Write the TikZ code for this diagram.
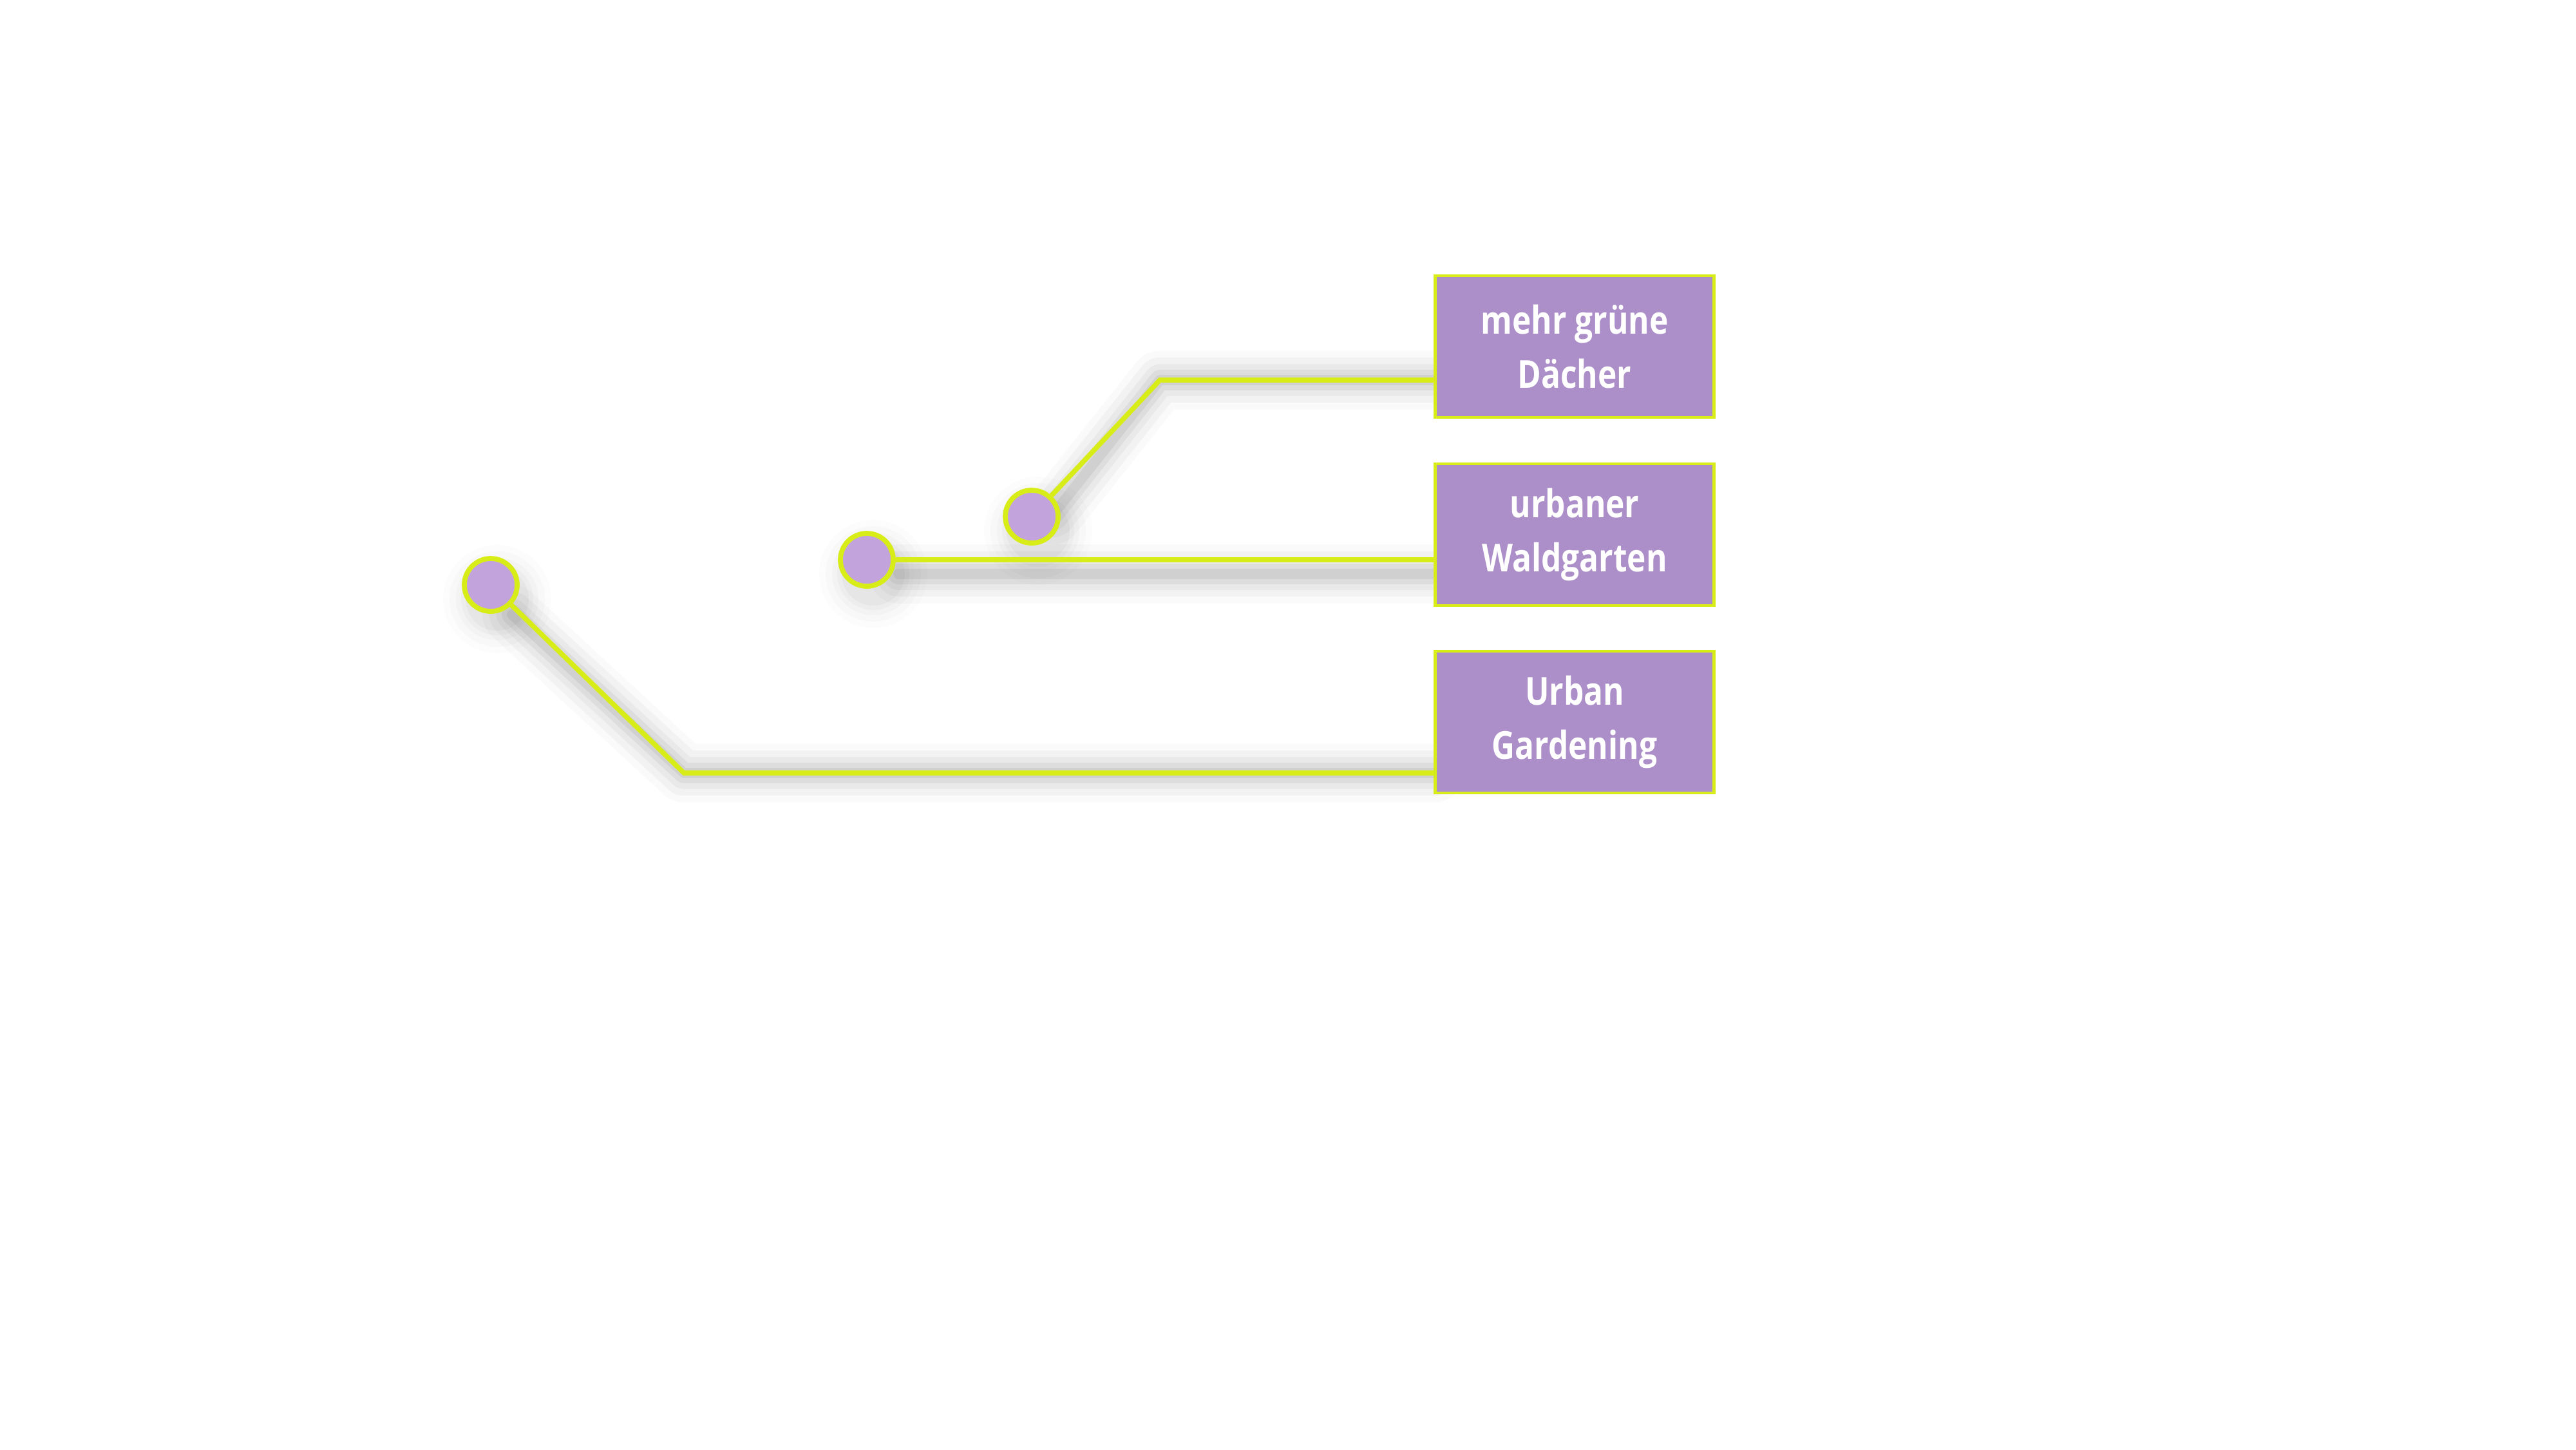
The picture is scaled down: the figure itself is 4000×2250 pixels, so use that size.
\documentclass[tikz,border=0pt]{standalone}
\usepackage{fontspec}
\newfontfamily\boxfont{Open Sans}[FakeStretch=0.83]
\definecolor{lime}{RGB}{216,236,24}
\definecolor{boxfill}{RGB}{172,143,201}
\definecolor{dotfill}{RGB}{195,163,220}
\begin{document}
\begin{tikzpicture}[x=0.01cm,y=-0.01cm,
  conn/.style={draw=lime,line width=2.2pt,line join=miter},
  shad/.style={draw=black,line join=round,line cap=round},
  dot/.style={circle,draw=lime,fill=dotfill,line width=2.2pt,minimum size=0.82cm,inner sep=0pt},
  label/.style={rectangle,draw=lime,fill=boxfill,line width=1.3pt,minimum width=4.33cm,minimum height=2.2cm,
    inner sep=0pt,align=center,text=white,font=\boxfont\bfseries\fontsize{17pt}{23.9pt}\selectfont}]
\useasboundingbox (0,0) rectangle (4000,2250);
% nodes
\node[label] (b1) at (2445,538) {\raisebox{-3pt}{\parbox{4cm}{\centering mehr grüne\\Dächer}}};
\node[label] (b2) at (2445,830) {\raisebox{-3pt}{\parbox{4cm}{\centering urbaner\\Waldgarten}}};
\node[label] (b3) at (2445,1121) {\raisebox{-3pt}{\parbox{4cm}{\centering Urban\\Gardening}}};
\coordinate (k1) at (1801,590);
\coordinate (k3) at (1062,1200);
\coordinate (e1) at (2227,590);
\coordinate (e3) at (2227,1200);
% shadows
\begin{scope}[shift={(10,22)}]
\foreach \w/\o/\r in {26pt/0.02/84,20pt/0.03/74,14pt/0.04/64,9pt/0.05/56,4.5pt/0.06/49}{
  \draw[shad,line width=\w,opacity=\o] (1625,777) -- (k1) -- (e1);
  \draw[shad,line width=\w,opacity=\o] (1385,869) -- (e1 |- 0,869);
  \draw[shad,line width=\w,opacity=\o] (785,932) -- (k3) -- (e3);
  \fill[opacity=\o*0.5] (1602,802) circle (\r);
  \fill[opacity=\o*0.5] (1346,869) circle (\r);
  \fill[opacity=\o*0.5] (762,908) circle (\r);
}
\end{scope}
% dots
\node[dot] (c1) at (1602,802) {};
\node[dot] (c2) at (1346,869) {};
\node[dot] (c3) at (762,908) {};
% connectors
\draw[conn] (c1) -- (k1) -- (e1);
\draw[conn] (c2) -- (c2 -| b2.west);
\draw[conn] (c3) -- (k3) -- (e3);
% redraw boxes on top
\node[label] at (b1) {\raisebox{-3pt}{\parbox{4cm}{\centering mehr grüne\\Dächer}}};
\node[label] at (b2) {\raisebox{-3pt}{\parbox{4cm}{\centering urbaner\\Waldgarten}}};
\node[label] at (b3) {\raisebox{-3pt}{\parbox{4cm}{\centering Urban\\Gardening}}};
\end{tikzpicture}
\end{document}
